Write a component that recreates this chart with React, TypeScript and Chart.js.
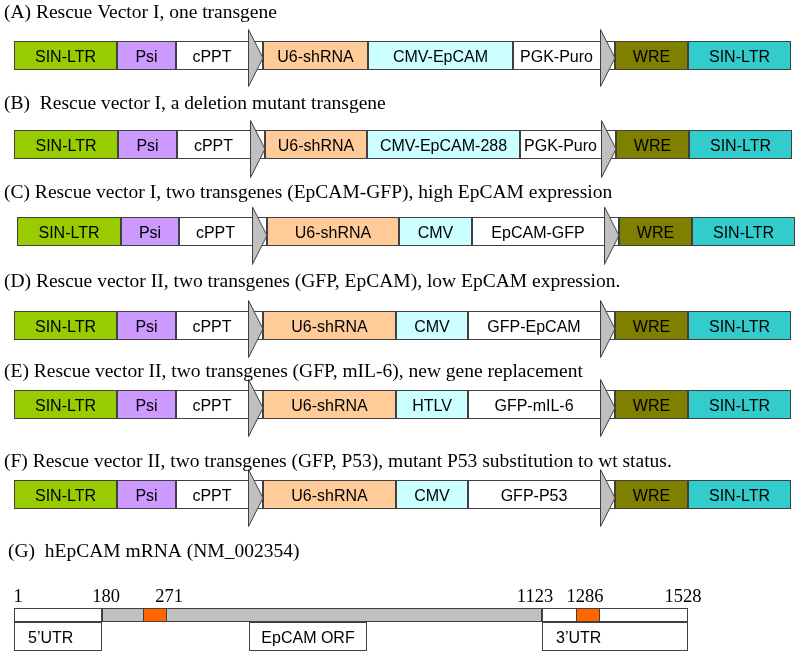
import React, { useEffect, useRef } from 'react';
import { Chart, registerables } from 'chart.js';

Chart.register(...registerables);

// ---------------- data ----------------
const titles = [
  '(A) Rescue Vector I, one transgene',
  '(B)  Rescue vector I, a deletion mutant transgene',
  '(C) Rescue vector I, two transgenes (EpCAM-GFP), high EpCAM expression',
  '(D) Rescue vector II, two transgenes (GFP, EpCAM), low EpCAM expression.',
  '(E) Rescue vector II, two transgenes (GFP, mIL-6), new gene replacement',
  '(F) Rescue vector II, two transgenes (GFP, P53), mutant P53 substitution to wt status.',
  '(G)  hEpCAM mRNA (NM_002354)',
];
const titleX = [4, 4, 4, 4, 4, 4, 8];
const titleY = [18, 109, 198, 287, 377, 467, 557];

const partNames = [
  ['SIN-LTR', 'Psi', 'cPPT', 'U6-shRNA', 'CMV-EpCAM', 'PGK-Puro', 'WRE', 'SIN-LTR'],
  ['SIN-LTR', 'Psi', 'cPPT', 'U6-shRNA', 'CMV-EpCAM-288', 'PGK-Puro', 'WRE', 'SIN-LTR'],
  ['SIN-LTR', 'Psi', 'cPPT', 'U6-shRNA', 'CMV', 'EpCAM-GFP', 'WRE', 'SIN-LTR'],
  ['SIN-LTR', 'Psi', 'cPPT', 'U6-shRNA', 'CMV', 'GFP-EpCAM', 'WRE', 'SIN-LTR'],
  ['SIN-LTR', 'Psi', 'cPPT', 'U6-shRNA', 'HTLV', 'GFP-mIL-6', 'WRE', 'SIN-LTR'],
  ['SIN-LTR', 'Psi', 'cPPT', 'U6-shRNA', 'CMV', 'GFP-P53', 'WRE', 'SIN-LTR'],
];
const partBounds = [
  [14, 117, 176, 263, 368, 513, 615, 688, 791],
  [14, 118, 177, 265, 367, 520, 616, 689, 792],
  [17, 121, 179, 267, 399, 472, 619, 692, 795],
  [14, 117, 176, 263, 396, 468, 615, 688, 791],
  [14, 117, 176, 263, 396, 468, 615, 688, 791],
  [14, 117, 176, 263, 396, 468, 615, 688, 791],
];
const arrowStarts = [
  [248, 600],
  [250, 601],
  [252, 604],
  [248, 600],
  [248, 600],
  [248, 600],
];
const rowCenter = [55.5, 144.5, 231.5, 325.5, 404.5, 494.5];
const arrowCenter = [58, 149, 235.5, 329, 408, 498];

// hEpCAM mRNA
const mrnaStart = [14, 102, 542];
const mrnaEnd = [102, 542, 688];
const targetStart = [143, 576];
const targetEnd = [167, 600];
const mrnaY = 615;
const regionNames = ['5\u2019UTR', 'EpCAM ORF', '3\u2019UTR'];
const regionStart = [14, 249, 542];
const regionEnd = [102, 367, 688];
const regionY = 636.5;
const positionLabels = ['1', '180', '271', '1123', '1286', '1528'];
const positionX = [18, 106, 169, 535, 585, 683];
const positionY = 602;

// ---------------- styles ----------------
const partColors = ['#99CC00', '#CC99FF', '#FFFFFF', '#FFCC99', '#CCFFFF', '#FFFFFF', '#808000', '#33CCCC'];
const mrnaColors = ['#FFFFFF', '#C0C0C0', '#FFFFFF'];
const regionAlign: CanvasTextAlign[] = ['left', 'center', 'left'];
const BORDER = '#404040';
const ARROW_W = 16;
const ARROW_H = 58;
const SANS = '16px "Liberation Sans", Arial, sans-serif';
const SERIF = '19.5px "Liberation Serif", "Times New Roman", serif';
const SERIF_NUM = '18.5px "Liberation Serif", "Times New Roman", serif';

function makeArrowImage(): HTMLCanvasElement {
  const c = document.createElement('canvas');
  c.width = ARROW_W;
  c.height = ARROW_H;
  const g = c.getContext('2d')!;
  g.beginPath();
  g.moveTo(0.5, 0.5);
  g.lineTo(ARROW_W - 1, ARROW_H / 2);
  g.lineTo(0.5, ARROW_H - 0.5);
  g.closePath();
  g.fillStyle = '#C0C0C0';
  g.fill();
  g.strokeStyle = BORDER;
  g.lineWidth = 1;
  g.stroke();
  return c;
}

const textPlugin = {
  id: 'diagramText',
  afterDatasetsDraw(chart: any) {
    const ctx = chart.ctx as CanvasRenderingContext2D;
    const xs = chart.scales.x;
    const ys = chart.scales.y;
    ctx.save();
    ctx.fillStyle = '#000';
    ctx.textBaseline = 'alphabetic';

    // titles
    ctx.font = SERIF;
    ctx.textAlign = 'left';
    titles.forEach((t, i) => {
      ctx.fillText(t, xs.getPixelForValue(titleX[i]), ys.getPixelForValue(titleY[i]));
    });

    // position numbers
    ctx.font = SERIF_NUM;
    ctx.textAlign = 'center';
    positionLabels.forEach((t, i) => {
      ctx.fillText(t, xs.getPixelForValue(positionX[i]), ys.getPixelForValue(positionY));
    });

    // part labels
    ctx.font = SANS;
    partNames.forEach((names, r) => {
      names.forEach((name, i) => {
        const s = partBounds[r][i];
        let e = partBounds[r][i + 1];
        arrowStarts[r].forEach((a) => {
          if (a > s && a < e) e = a;
        });
        const px = (xs.getPixelForValue(s) + xs.getPixelForValue(e)) / 2;
        const py = ys.getPixelForValue(rowCenter[r]) + 6;
        ctx.textAlign = 'center';
        ctx.fillText(name, px, py);
      });
    });

    // region labels
    regionNames.forEach((name, i) => {
      const s = xs.getPixelForValue(regionStart[i]);
      const e = xs.getPixelForValue(regionEnd[i]);
      const py = ys.getPixelForValue(regionY) + 6;
      ctx.textAlign = regionAlign[i];
      const px = regionAlign[i] === 'left' ? s + 14 : (s + e) / 2;
      ctx.fillText(name, px, py);
    });
    ctx.restore();
  },
};

export default function App() {
  const ref = useRef<HTMLCanvasElement | null>(null);

  useEffect(() => {
    if (!ref.current) return;
    const arrowImg = makeArrowImage();

    const partData: any[] = [];
    const partBg: string[] = [];
    partNames.forEach((names, r) => {
      names.forEach((_, i) => {
        partData.push({ x: [partBounds[r][i], partBounds[r][i + 1]], y: rowCenter[r] });
        partBg.push(partColors[i]);
      });
    });

    const arrowData: any[] = [];
    arrowStarts.forEach((starts, r) => {
      starts.forEach((a) => arrowData.push({ x: a + ARROW_W / 2, y: arrowCenter[r] }));
    });

    const mrnaData = mrnaStart.map((s, i) => ({ x: [s, mrnaEnd[i]], y: mrnaY }));
    const targetData = targetStart.map((s, i) => ({ x: [s, targetEnd[i]], y: mrnaY }));
    const regionData = regionStart.map((s, i) => ({ x: [s, regionEnd[i]], y: regionY }));

    const barCommon = {
      type: 'bar' as const,
      indexAxis: 'y' as const,
      grouped: false,
      borderColor: BORDER,
      borderWidth: 1,
      borderSkipped: false,
      inflateAmount: 0,
    };

    const chart = new Chart(ref.current, {
      type: 'bar',
      data: {
        datasets: [
          {
            type: 'scatter',
            data: arrowData,
            pointStyle: arrowImg as any,
            pointRadius: 10,
            order: 0,
          } as any,
          { ...barCommon, data: targetData, backgroundColor: '#FF6600', barThickness: 14, order: 1 } as any,
          { ...barCommon, data: partData, backgroundColor: partBg, barThickness: 29, order: 2 } as any,
          { ...barCommon, data: mrnaData, backgroundColor: mrnaColors, barThickness: 14, order: 2 } as any,
          { ...barCommon, data: regionData, backgroundColor: '#FFFFFF', barThickness: 29, order: 2 } as any,
        ],
      },
      options: {
        responsive: false,
        animation: false,
        events: [],
        layout: { padding: 0, autoPadding: false },
        plugins: { legend: { display: false }, tooltip: { enabled: false } },
        scales: {
          x: { type: 'linear', min: 0, max: 800, display: false, offset: false, grid: { offset: false } },
          y: { type: 'linear', min: 0, max: 657, reverse: true, display: false, offset: false, grid: { offset: false } },
        },
      } as any,
      plugins: [textPlugin],
    });
    return () => chart.destroy();
  }, []);

  return (
    <div style={{ position: 'absolute', left: 0, top: 0, width: 800, height: 657, background: '#fff' }}>
      <canvas ref={ref} width={800} height={657} style={{ display: 'block' }} />
    </div>
  );
}
